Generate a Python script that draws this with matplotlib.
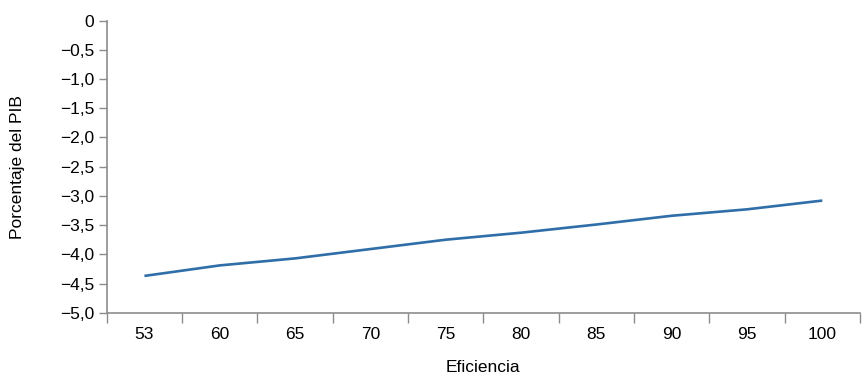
import numpy as np
import matplotlib
matplotlib.use("Agg")
import matplotlib.pyplot as plt
from matplotlib.ticker import FixedLocator, FuncFormatter


# data
eficiencia = ["53", "60", "65", "70", "75", "80", "85", "90", "95", "100"]
pct_pib = [-4.37, -4.19, -4.07, -3.91, -3.75, -3.63, -3.49, -3.34, -3.23, -3.08]
y_ticks = [0, -0.5, -1.0, -1.5, -2.0, -2.5, -3.0, -3.5, -4.0, -4.5, -5.0]

LINE_COLOR = "#2f6ea8"
AXIS_COLOR = "#8c8c8c"

plt.rcParams["font.family"] = ["Liberation Sans", "DejaVu Sans"]


def fmt_y(v, pos):
    if abs(v) < 1e-9:
        return "0"
    s = f"{abs(v):.1f}".replace(".", ",")
    return "\u2212" + s if v < 0 else s


def main():
    fig = plt.figure(figsize=(8.65, 3.78), dpi=100)
    ax = fig.add_axes([0.1234, 0.1727, 0.8708, 0.7726])

    x = np.arange(len(eficiencia))
    ax.plot(x, pct_pib, color=LINE_COLOR, lw=1.9, solid_capstyle="butt")

    ax.set_xlim(-0.5, len(eficiencia) - 0.5)
    ax.set_ylim(-5.0, 0)

    ax.set_xticks(x)
    ax.set_xticklabels(eficiencia)
    ax.xaxis.set_minor_locator(FixedLocator(np.arange(-0.5, len(eficiencia), 1.0)))
    ax.tick_params(axis="x", which="major", length=0, pad=10, labelsize=12.5)
    ax.tick_params(axis="x", which="minor", length=7, width=1, color=AXIS_COLOR, direction="out")

    ax.set_yticks(y_ticks)
    ax.yaxis.set_major_formatter(FuncFormatter(fmt_y))
    ax.tick_params(axis="y", length=6, width=1, color=AXIS_COLOR, labelsize=12.5, pad=3)

    for side in ("top", "right"):
        ax.spines[side].set_visible(False)
    for side in ("left", "bottom"):
        ax.spines[side].set_color(AXIS_COLOR)
        ax.spines[side].set_linewidth(1.2)

    ax.set_xlabel("Eficiencia", fontsize=12.5, labelpad=13)
    ax.set_ylabel("Porcentaje del PIB", fontsize=12.5, labelpad=25)

    fig.savefig("out.png", dpi=100)
    plt.close(fig)


if __name__ == "__main__":
    main()
